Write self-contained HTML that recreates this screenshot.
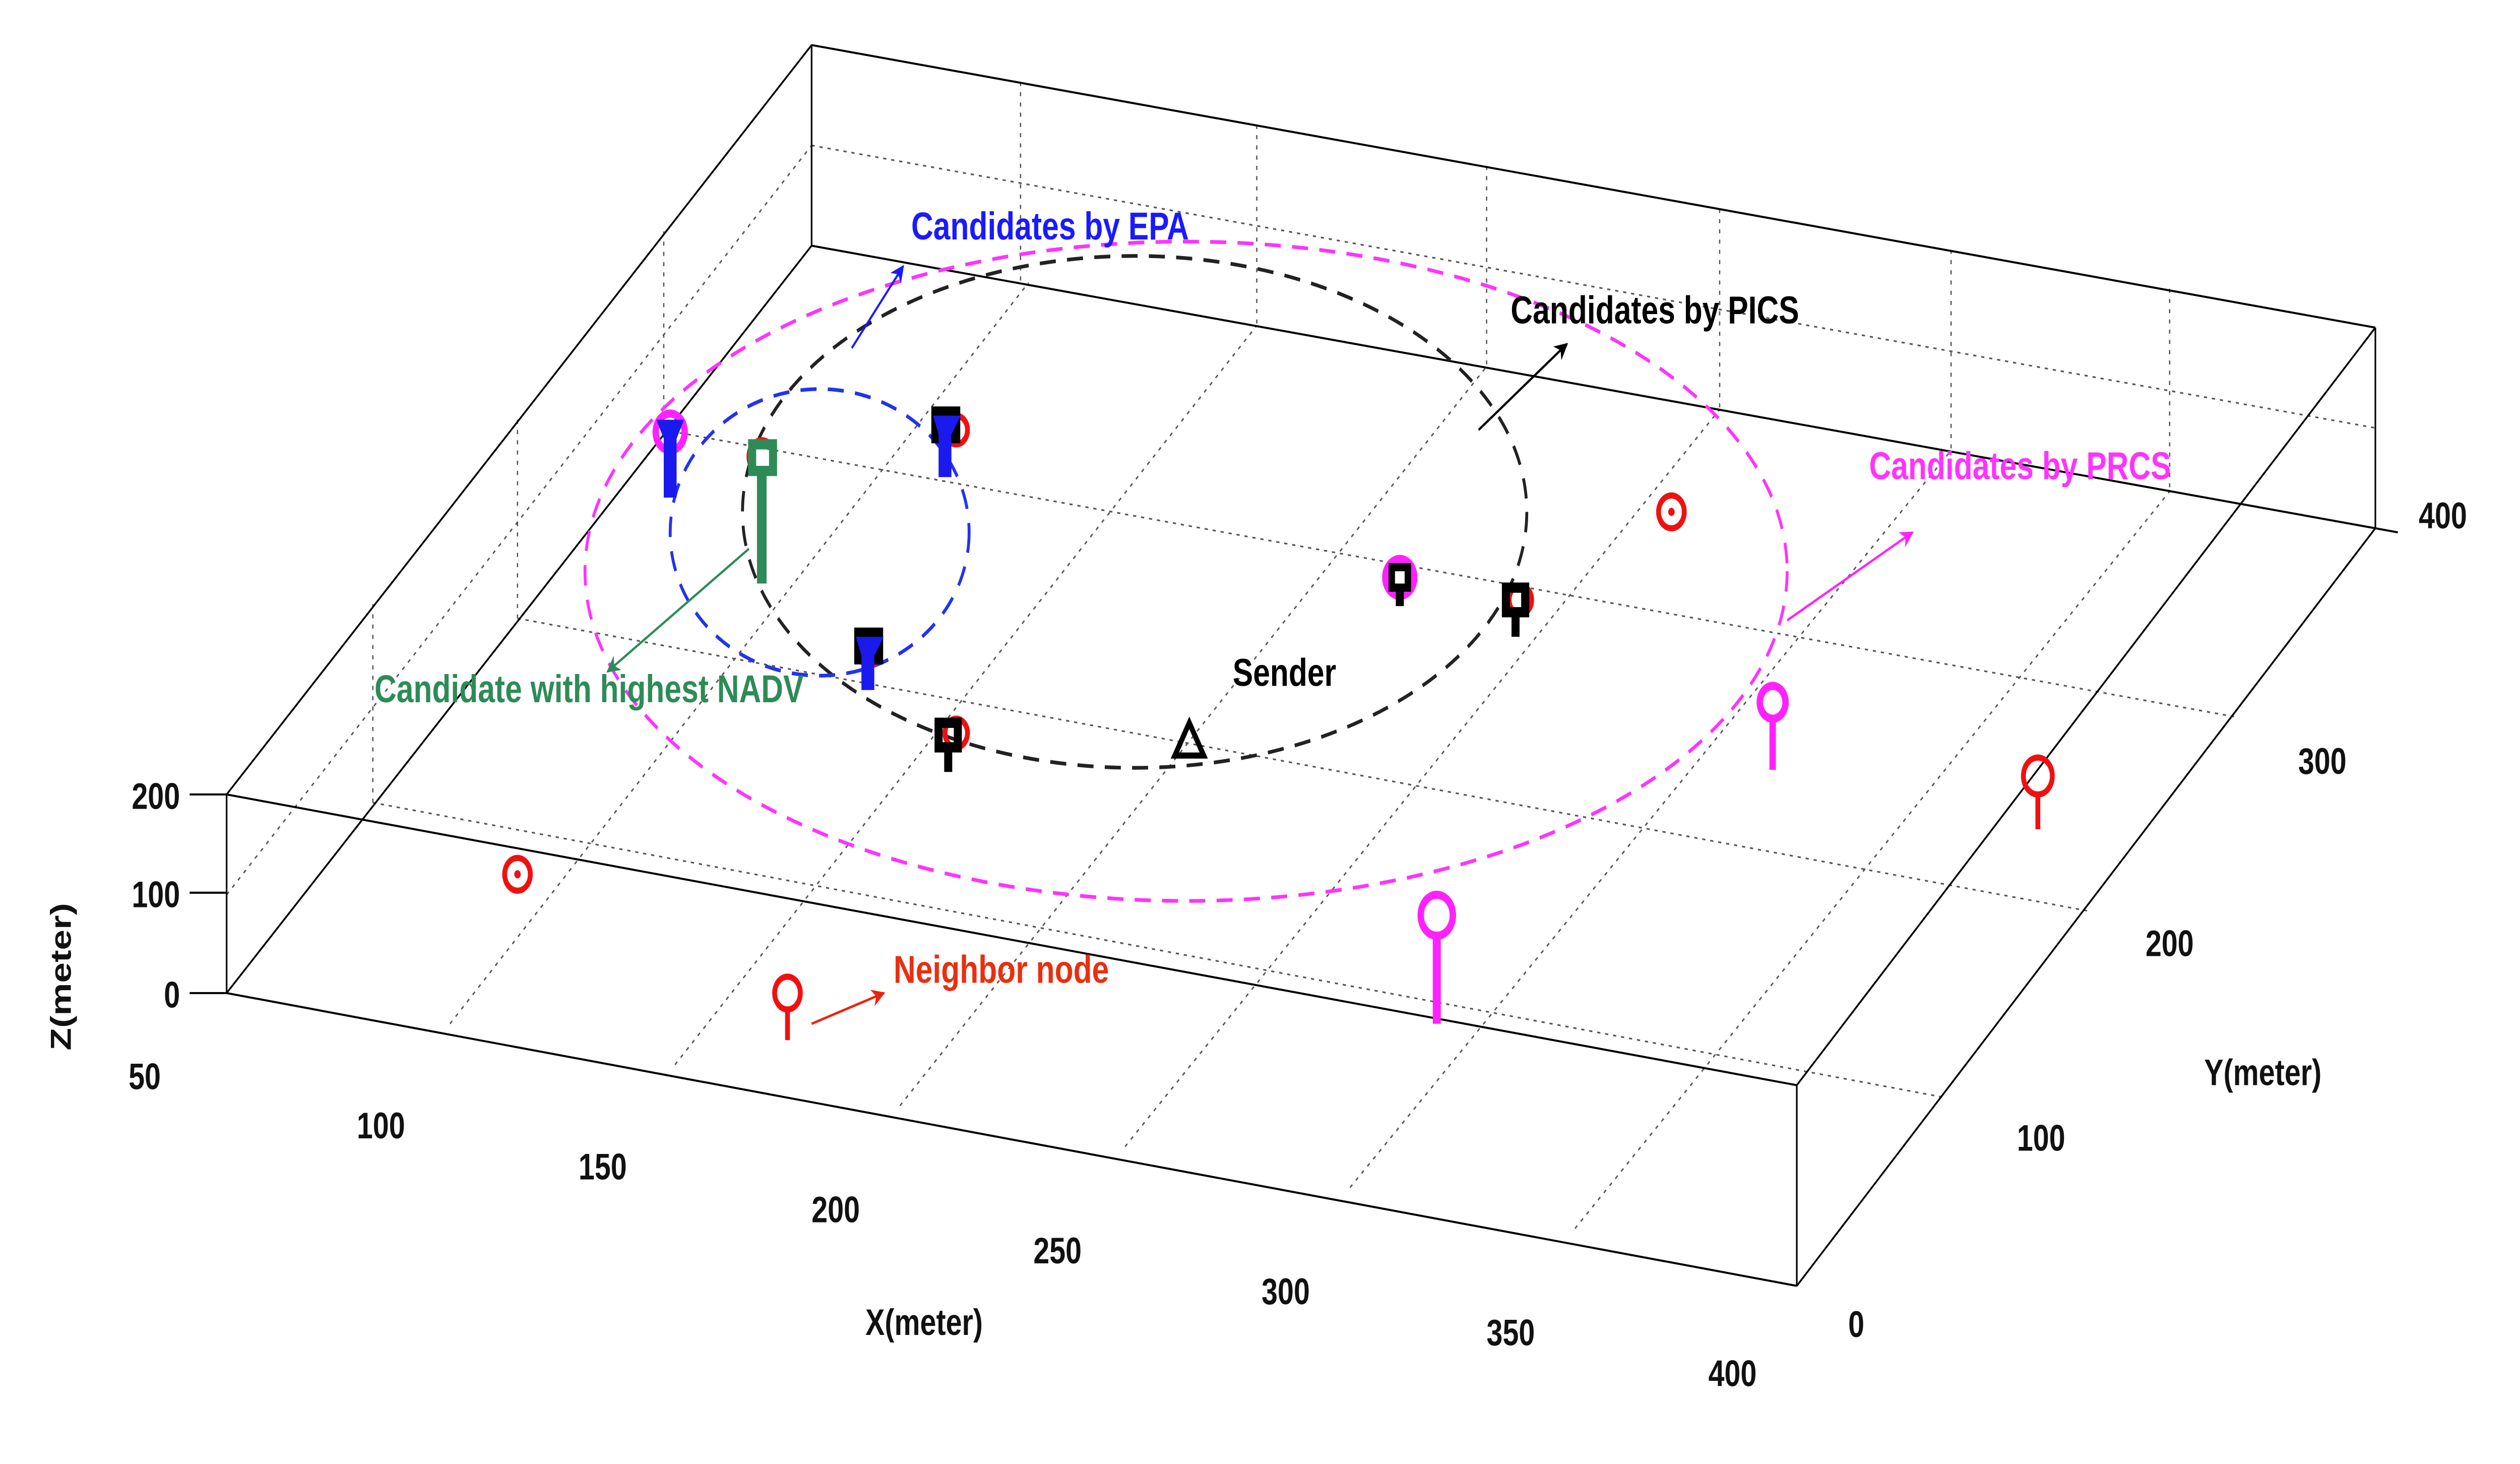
<!DOCTYPE html>
<html><head><meta charset="utf-8"><style>
html,body{margin:0;padding:0;background:#fff;width:100%;height:100%;overflow:hidden;}
svg{display:block;width:100vw;height:100vh;}
text{font-family:"Liberation Sans",Arial,sans-serif;font-weight:bold;}
</style></head><body>
<svg viewBox="0 0 1568 715" preserveAspectRatio="none" xmlns="http://www.w3.org/2000/svg">
<rect width="1568" height="715" fill="#fff"/>
<defs>
<marker id="ab" viewBox="0 0 10 10" refX="9" refY="5" markerWidth="7" markerHeight="7" orient="auto"><path d="M0,0L10,5L0,10L3,5z" fill="#1a1aff"/></marker>
<marker id="ak" viewBox="0 0 10 10" refX="9" refY="5" markerWidth="7" markerHeight="7" orient="auto"><path d="M0,0L10,5L0,10L3,5z" fill="#000"/></marker>
<marker id="am" viewBox="0 0 10 10" refX="9" refY="5" markerWidth="7" markerHeight="7" orient="auto"><path d="M0,0L10,5L0,10L3,5z" fill="#ff22ff"/></marker>
<marker id="ar" viewBox="0 0 10 10" refX="9" refY="5" markerWidth="7" markerHeight="7" orient="auto"><path d="M0,0L10,5L0,10L3,5z" fill="#f02010"/></marker>
<marker id="ag" viewBox="0 0 10 10" refX="9" refY="5" markerWidth="7" markerHeight="7" orient="auto"><path d="M0,0L10,5L0,10L3,5z" fill="#2e8b57"/></marker>
</defs>
<g stroke="#555" stroke-width="0.8" stroke-dasharray="2,3" fill="none">
<line x1="232" y1="295" x2="232" y2="392"/>
<line x1="322" y1="205" x2="322" y2="302"/>
<line x1="413" y1="113" x2="413" y2="210"/>
<line x1="635" y1="40" x2="635" y2="138"/>
<line x1="782" y1="61" x2="782" y2="159"/>
<line x1="925" y1="81" x2="925" y2="179"/>
<line x1="1070" y1="102" x2="1070" y2="200"/>
<line x1="1214" y1="122" x2="1214" y2="220"/>
<line x1="1350" y1="141" x2="1350" y2="240"/>
<line x1="505" y1="71" x2="1478" y2="209"/>
<line x1="141" y1="437" x2="505" y2="71"/>
<line x1="232" y1="392" x2="1210" y2="536"/>
<line x1="322" y1="302" x2="1300" y2="445"/>
<line x1="413" y1="210" x2="1390" y2="350"/>
<line x1="280" y1="500" x2="640" y2="138"/>
<line x1="420" y1="520" x2="782" y2="159"/>
<line x1="560" y1="540" x2="925" y2="179"/>
<line x1="700" y1="560" x2="1070" y2="200"/>
<line x1="840" y1="580" x2="1214" y2="220"/>
<line x1="980" y1="600" x2="1350" y2="240"/>
</g>
<g stroke="#000" stroke-width="1" fill="none">
<line x1="505" y1="22" x2="1478" y2="160"/>
<line x1="505" y1="22" x2="505" y2="120"/>
<line x1="505" y1="22" x2="141" y2="388"/>
<line x1="505" y1="120" x2="1478" y2="258"/>
<line x1="505" y1="120" x2="141" y2="485"/>
<line x1="141" y1="388" x2="141" y2="485"/>
<line x1="141" y1="388" x2="1118" y2="530"/>
<line x1="141" y1="485" x2="1118" y2="628"/>
<line x1="1118" y1="530" x2="1118" y2="628"/>
<line x1="1118" y1="530" x2="1478" y2="160"/>
<line x1="1118" y1="628" x2="1478" y2="258"/>
<line x1="1478" y1="160" x2="1478" y2="258"/>
<line x1="118" y1="388" x2="141" y2="388"/><line x1="118" y1="436" x2="141" y2="436"/><line x1="118" y1="485" x2="141" y2="485"/>
<line x1="1478" y1="258" x2="1492" y2="260"/>
</g>
<g font-size="18" fill="#111">
<text x="112" y="395" text-anchor="end">200</text>
<text x="112" y="443" text-anchor="end">100</text>
<text x="112" y="492" text-anchor="end">0</text>
<text x="90" y="532" text-anchor="middle">50</text>
<text x="237" y="556" text-anchor="middle">100</text>
<text x="375" y="576" text-anchor="middle">150</text>
<text x="520" y="597" text-anchor="middle">200</text>
<text x="658" y="617" text-anchor="middle">250</text>
<text x="800" y="637" text-anchor="middle">300</text>
<text x="940" y="657" text-anchor="middle">350</text>
<text x="1078" y="677" text-anchor="middle">400</text>
<text x="1155" y="653" text-anchor="middle">0</text>
<text x="1270" y="562" text-anchor="middle">100</text>
<text x="1350" y="467" text-anchor="middle">200</text>
<text x="1445" y="378" text-anchor="middle">300</text>
<text x="1520" y="258" text-anchor="middle">400</text>
<text x="575" y="652" text-anchor="middle">X(meter)</text>
<text x="1408" y="530" text-anchor="middle">Y(meter)</text>
<text transform="translate(44,477) rotate(-90)" text-anchor="middle">Z(meter)</text>
</g>
<ellipse cx="738" cy="279" rx="374" ry="161" fill="none" stroke="#ff33ff" stroke-width="1.8" stroke-dasharray="10,7"/>
<ellipse cx="706" cy="250" rx="244" ry="125" fill="none" stroke="#222" stroke-width="1.8" stroke-dasharray="10,7"/>
<ellipse cx="510" cy="260" rx="93" ry="70" fill="none" stroke="#2233ee" stroke-width="1.8" stroke-dasharray="10,7"/>
<line x1="530" y1="170" x2="562" y2="130" stroke="#1a1aff" stroke-width="1.2" marker-end="url(#ab)"/>
<line x1="920" y1="210" x2="975" y2="168" stroke="#000" stroke-width="1.2" marker-end="url(#ak)"/>
<line x1="1112" y1="303" x2="1190" y2="260" stroke="#ff22ff" stroke-width="1.2" marker-end="url(#am)"/>
<line x1="466" y1="268" x2="378" y2="328" stroke="#2e8b57" stroke-width="1.2" marker-end="url(#ag)"/>
<line x1="505" y1="500" x2="550" y2="485" stroke="#f02010" stroke-width="1.2" marker-end="url(#ar)"/>
<g font-size="19">
<text x="567" y="117" fill="#1a1aff">Candidates by EPA</text>
<text x="940" y="158" fill="#000">Candidates by PICS</text>
<text x="1163" y="234" fill="#ff33ff">Candidates by PRCS</text>
<text x="233" y="343" fill="#2e8b57">Candidate with highest NADV</text>
<text x="767" y="335" fill="#000">Sender</text>
<text x="556" y="480" fill="#e83010">Neighbor node</text>
</g>
<g fill="none" stroke="#f01010" stroke-width="3">
<circle cx="322" cy="427" r="8"/><circle cx="1040" cy="250" r="8"/>
<circle cx="490" cy="485" r="8"/><line x1="490" y1="493" x2="490" y2="508"/>
<circle cx="1268" cy="379" r="9"/><line x1="1268" y1="388" x2="1268" y2="405"/>
<circle cx="595" cy="210" r="7"/><circle cx="541" cy="318" r="7"/><circle cx="595" cy="358" r="7"/><circle cx="946" cy="293" r="7"/><circle cx="474" cy="223" r="8"/>
</g>
<g fill="#f01010"><circle cx="322" cy="427" r="2"/><circle cx="1040" cy="250" r="2"/></g>
<g fill="none" stroke="#ff22ff" stroke-width="4">
<circle cx="417" cy="211" r="9"/><circle cx="871" cy="282" r="9"/>
<circle cx="1103" cy="343" r="8"/><line x1="1103" y1="351" x2="1103" y2="376"/>
<circle cx="894" cy="447" r="10"/><line x1="894" y1="457" x2="894" y2="500" stroke-width="5"/>
</g>
<g fill="none" stroke="#000" stroke-width="5">
<rect x="582" y="201" width="13" height="13"/>
<rect x="534" y="309" width="13" height="13"/>
<rect x="584" y="353" width="12" height="12"/><line x1="590" y1="365" x2="590" y2="377"/>
<rect x="866" y="277" width="10" height="10" stroke-width="4"/><line x1="871" y1="288" x2="871" y2="296"/>
<rect x="937" y="287" width="12" height="12"/><line x1="943" y1="300" x2="943" y2="311"/>
<path d="M731,369 L740,353 L749,369 Z" stroke-width="3"/>
</g>
<g fill="#1a1aee" stroke="#1a1aee" stroke-width="2">
<path d="M410,206 L424,206 L420,214 L420,242 L414,242 L414,214 Z"/>
<path d="M582,204 L596,204 L591,212 L591,232 L585,232 L585,212 Z"/>
<path d="M534,312 L548,312 L543,320 L543,336 L537,336 L537,320 Z"/>
</g>
<g fill="none" stroke="#2e8b57" stroke-width="5">
<rect x="468" y="217" width="13" height="13"/>
<line x1="474" y1="231" x2="474" y2="285" stroke-width="6"/>
</g>
</svg>
</body></html>
